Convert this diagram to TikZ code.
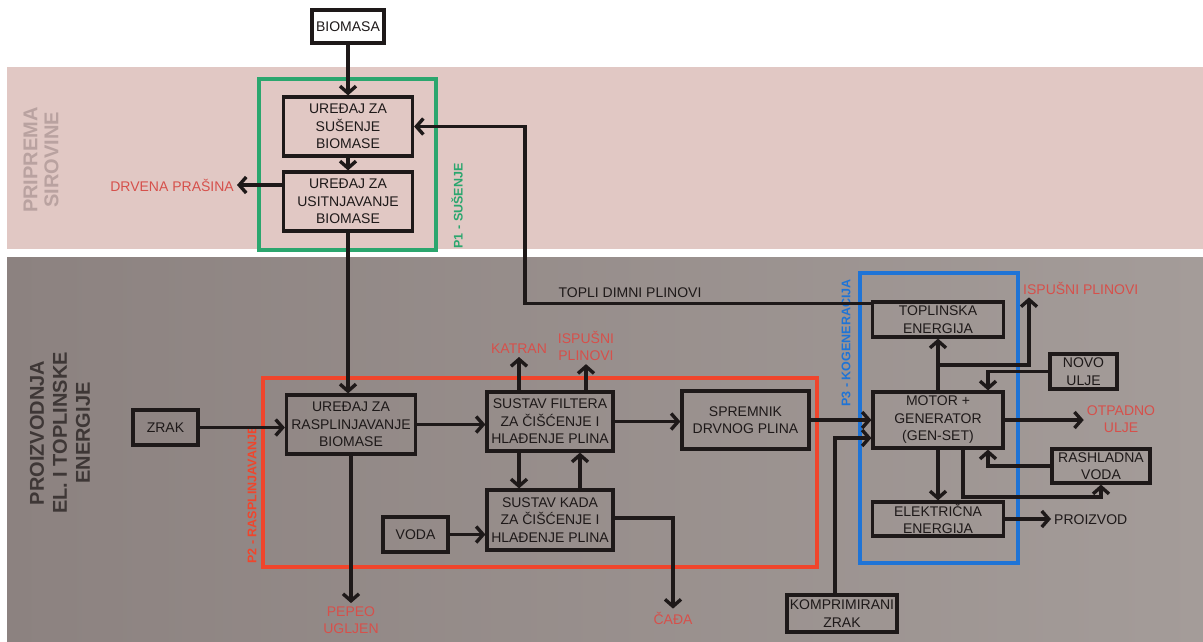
\documentclass[tikz,border=0pt]{standalone}
\usepackage{fontspec}
\setmainfont{Liberation Sans}
\usetikzlibrary{arrows.meta,calc}
\definecolor{ink}{HTML}{1E1919}
\definecolor{pinkbg}{HTML}{E1C8C4}
\definecolor{grayL}{HTML}{8C8280}
\definecolor{grayR}{HTML}{A49C99}
\definecolor{greenc}{HTML}{2BA66E}
\definecolor{redc}{HTML}{F0452C}
\definecolor{labred}{HTML}{D6504B}
\definecolor{bluec}{HTML}{1F74D6}
\definecolor{pinktxt}{HTML}{B9A2A0}
\definecolor{darktxt}{HTML}{3E3736}
\begin{document}
\begin{tikzpicture}[x=1pt,y=-1pt,
  box/.style={draw=ink,line width=3.2pt,inner sep=0pt,align=center,text=ink,
    font=\fontsize{14}{17.5}\selectfont},
  arr/.style={draw=ink,line width=3.4pt,-{Straight Barb[length=7pt,width=16pt]}},
  lab/.style={font=\fontsize{14}{17.5}\selectfont,text=labred,align=center,inner sep=3pt},
  grp/.style={line width=3.2pt},
  grplab/.style={rotate=90,font=\bfseries\fontsize{12.5}{14}\selectfont,inner sep=0pt},
  region/.style={rotate=90,align=center,inner sep=0pt}]
\fill[white] (0,0) rectangle (1203,641);
\useasboundingbox (0,0) rectangle (1203,641);
\fill[pinkbg] (7,67) rectangle (1203,249);
\shade[left color=grayL,right color=grayR] (7,257) rectangle (1203,641);

% region labels
\node[region,font=\bfseries\fontsize{20}{21}\selectfont,text=pinktxt] (prip) at (41,160) {PRIPREMA\\SIROVINE};
\node[region,font=\bfseries\fontsize{20}{23}\selectfont,text=darktxt] (proiz) at (60,433) {PROIZVODNJA\\EL. I TOPLINSKE\\ENERGIJE};

% group frames
\draw[grp,draw=greenc] (259,79) rectangle (436,250);
\draw[grp,draw=redc,line width=3.6pt] (263,378) rectangle (817,567);
\draw[grp,draw=bluec] (860,273) rectangle (1018,563);
\node[grplab,text=greenc] (p1) at (457,206) {P1 - SUŠENJE};
\node[grplab,text=redc] (p2) at (252,495) {P2 - RASPLINJAVANJE};
\node[grplab,text=bluec] (p3) at (846,343) {P3 - KOGENERACIJA};

% boxes
\node[box,minimum width=72pt,minimum height=33pt] (biomasa) at (348,26.5) {BIOMASA};
\node[box,minimum width=129pt,minimum height=59pt] (susenje) at (348,126.5) {UREĐAJ ZA\\SUŠENJE\\BIOMASE};
\node[box,minimum width=129pt,minimum height=59pt] (usitnj) at (348,201.5) {UREĐAJ ZA\\USITNJAVANJE\\BIOMASE};
\node[box,minimum width=129pt,minimum height=59pt] (raspl) at (351,424.5) {UREĐAJ ZA\\RASPLINJAVANJE\\BIOMASE};
\node[box,minimum width=65pt,minimum height=35pt] (zrak) at (165.5,427.5) {ZRAK};
\node[box,minimum width=65pt,minimum height=35pt] (voda) at (415.5,534.5) {VODA};
\node[box,minimum width=126pt,minimum height=59pt] (filter) at (550,421.5) {SUSTAV FILTERA\\ZA ČIŠĆENJE I\\HLAĐENJE PLINA};
\node[box,minimum width=126pt,minimum height=60pt] (kada) at (550,520) {SUSTAV KADA\\ZA ČIŠĆENJE I\\HLAĐENJE PLINA};
\node[box,minimum width=127pt,minimum height=58pt] (spremnik) at (745.5,420) {SPREMNIK\\DRVNOG PLINA};
\node[box,minimum width=110pt,minimum height=37pt] (komp) at (842,613.5) {KOMPRIMIRANI\\ZRAK};
\node[box,minimum width=131pt,minimum height=35pt] (toplinska) at (938,319.5) {TOPLINSKA\\ENERGIJA};
\node[box,minimum width=130pt,minimum height=56pt] (motor) at (938,420) {MOTOR +\\GENERATOR\\(GEN-SET)};
\node[box,minimum width=131pt,minimum height=34pt] (elek) at (938,519) {ELEKTRIČNA\\ENERGIJA};
\node[box,minimum width=67pt,minimum height=35pt] (novo) at (1083.5,371.5) {NOVO\\ULJE};
\node[box,minimum width=98pt,minimum height=34pt] (rashl) at (1101,466) {RASHLADNA\\VODA};

% labels
\node[lab,anchor=east] (drvena) at (237,185) {DRVENA PRAŠINA};
\node[lab] (pepeo) at (351,620) {PEPEO\\UGLJEN};
\node[lab] (katran) at (519,349) {KATRAN};
\node[lab] (isp1) at (586,346) {ISPUŠNI\\PLINOVI};
\node[lab] (cada) at (673,618) {ČAĐA};
\node[lab,anchor=west] (isp2) at (1020,288) {ISPUŠNI PLINOVI};
\node[lab] (otpadno) at (1121,419) {OTPADNO\\ULJE};
\node[lab,text=ink,anchor=west] (proizvod) at (1051,520) {PROIZVOD};
\node[font=\fontsize{14}{17.5}\selectfont,text=ink,inner sep=0pt] (topli) at (630,293) {TOPLI DIMNI PLINOVI};

% guide coordinates
\coordinate (tstart) at ([yshift=-3pt]toplinska.north west);
\coordinate (tpx) at (525,0);
\coordinate (xk) at (519,0);
\coordinate (xu) at (580,0);
\coordinate (cadaC) at (673,518);
\coordinate (kz) at (835,438);
\coordinate (br) at (938,365);
\coordinate (br2) at (1029,365);
\coordinate (nvx) at (988,0);
\coordinate (m2) at (963,497);

% connectors
\draw[arr] (biomasa.south) -- (susenje.north);
\draw[arr] (susenje.south) -- (usitnj.north);
\draw[arr] (usitnj.west |- drvena.east) -- (drvena.east);
\draw[arr] (usitnj.south) -- (usitnj.south |- raspl.north);
\draw[arr] (tstart) -- (tpx |- tstart) |- (susenje.east);
\draw[arr] (zrak.east) -- (zrak.east -| raspl.west);
\draw[arr] (raspl.east) -- (raspl.east -| filter.west);
\draw[arr] (raspl.south) -- (pepeo.north);
\draw[arr] (katran.south |- filter.north) -- (katran.south);
\draw[arr] (isp1.south |- filter.north) -- (isp1.south);
\draw[arr] (filter.east) -- (filter.east -| spremnik.west);
\draw[arr] (xk |- filter.south) -- (xk |- kada.north);
\draw[arr] (xu |- kada.north) -- (xu |- filter.south);
\draw[arr] (voda.east) -- (voda.east -| kada.west);
\draw[arr] (kada.east |- cadaC) -- (cadaC) -- (cada.north);
\draw[arr] (spremnik.east) -- (spremnik.east -| motor.west);
\draw[arr] (kz |- komp.north) -- (kz) -- (kz -| motor.west);
\draw[arr] (motor.north) -- (toplinska.south);
\draw[arr] (br) -- (br2) -- (br2 |- isp2.south);
\draw[arr] (novo.west) -| (nvx |- motor.north);
\draw[arr] (motor.east) -- (motor.east -| otpadno.west);
\draw[arr] (rashl.west) -| (nvx |- motor.south);
\draw[arr] (m2 |- motor.south) -- (m2) -| (rashl.south);
\draw[arr] (motor.south) -- (elek.north);
\draw[arr] (elek.east) -- (elek.east -| proizvod.west);
\end{tikzpicture}
\end{document}
